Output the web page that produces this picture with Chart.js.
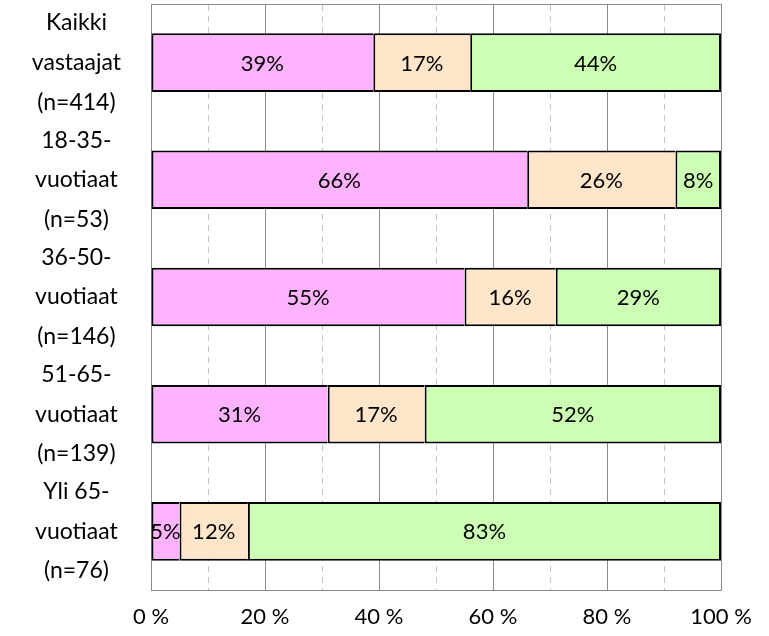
<!DOCTYPE html>
<html>
<head>
<meta charset="utf-8">
<script src="https://cdn.jsdelivr.net/npm/chart.js@4/dist/chart.umd.min.js"></script>
<style>
  html, body { margin: 0; padding: 0; background: #fff; }
</style>
</head>
<body>
<canvas id="chart" width="769" height="636"></canvas>
<script>
const CATEGORIES = [
  ['Kaikki', 'vastaajat', '(n=414)'],
  ['18-35-', 'vuotiaat', '(n=53)'],
  ['36-50-', 'vuotiaat', '(n=146)'],
  ['51-65-', 'vuotiaat', '(n=139)'],
  ['Yli 65-', 'vuotiaat', '(n=76)'],
];
const SERIES_1 = [39, 66, 55, 31, 5];
const SERIES_2 = [17, 26, 16, 17, 12];
const SERIES_3 = [44, 8, 29, 52, 83];
const X_TICKS = [0, 20, 40, 60, 80, 100];

const PINK = '#FFB3FF';
const PEACH = '#FFE5C9';
const GREEN = '#CCFFB3';
const GRID_SOLID = '#8c8c8c';
const GRID_DASH = '#c4c4c4';
const FONT = 'Lato';

// draws the percent label in the middle of each segment
const segmentLabels = {
  id: 'segmentLabels',
  afterDatasetsDraw(chart) {
    const ctx = chart.ctx;
    ctx.save();
    ctx.font = '22px ' + FONT;
    ctx.fillStyle = '#000';
    ctx.textAlign = 'center';
    ctx.textBaseline = 'middle';
    chart.data.datasets.forEach((ds, i) => {
      chart.getDatasetMeta(i).data.forEach((bar, j) => {
        const x = (bar.x + bar.base) / 2;
        ctx.fillText(ds.data[j] + '%', x, bar.y + 1);
      });
    });
    ctx.restore();
  },
};

const lastIndex = 2;
// each segment draws its left edge, the last one closes the right edge
const borderFor = (ctx) => ({
  top: 2,
  bottom: 2,
  left: 2,
  right: ctx.datasetIndex === lastIndex ? 2 : 0,
});

new Chart(document.getElementById('chart'), {
  type: 'bar',
  data: {
    labels: CATEGORIES,
    datasets: [
      { label: 'Sarja 1', data: SERIES_1, backgroundColor: PINK },
      { label: 'Sarja 2', data: SERIES_2, backgroundColor: PEACH },
      { label: 'Sarja 3', data: SERIES_3, backgroundColor: GREEN },
    ],
  },
  options: {
    indexAxis: 'y',
    responsive: false,
    devicePixelRatio: 1,
    animation: false,
    layout: { padding: { top: 4, right: 48, bottom: 0, left: 0 } },
    datasets: {
      bar: {
        categoryPercentage: 1,
        barPercentage: 0.5,
        borderColor: '#000',
        borderWidth: borderFor,
        borderSkipped: false,
      },
    },
    plugins: {
      legend: { display: false },
      tooltip: { enabled: false },
    },
    scales: {
      x: {
        stacked: true,
        min: 0,
        max: 100,
        afterBuildTicks: (scale) => {
          scale.ticks = X_TICKS.map((v) => ({ value: v }));
        },
        afterFit: (scale) => { scale.height = 46; },
        ticks: {
          callback: (v) => v + ' %',
          color: '#000',
          padding: 14,
          font: { family: FONT, size: 22 },
          maxRotation: 0,
        },
        grid: { color: GRID_SOLID, drawTicks: false, lineWidth: 1 },
        border: { display: true, color: GRID_SOLID, width: 1 },
      },
      xDash: {
        type: 'linear',
        position: 'top',
        min: 0,
        max: 100,
        afterFit: (scale) => { scale.height = 0; },
        ticks: { display: false, stepSize: 10 },
        grid: {
          drawTicks: false,
          color: (ctx) => (ctx.tick && ctx.tick.value % 20 !== 0 ? GRID_DASH : 'transparent'),
        },
        border: { display: true, color: GRID_SOLID, width: 1, dash: [6, 5] },
      },
      y: {
        stacked: true,
        afterFit: (scale) => {
          scale.width = 151;
          scale.paddingTop = 0;
          scale.paddingBottom = 0;
        },
        ticks: {
          color: '#000',
          crossAlign: 'center',
          padding: 30,
          autoSkip: false,
          font: { family: FONT, size: 23, lineHeight: 1.72 },
        },
        grid: { display: false, drawTicks: false },
        border: { display: false },
      },
    },
  },
  plugins: [segmentLabels],
});
</script>
</body>
</html>
